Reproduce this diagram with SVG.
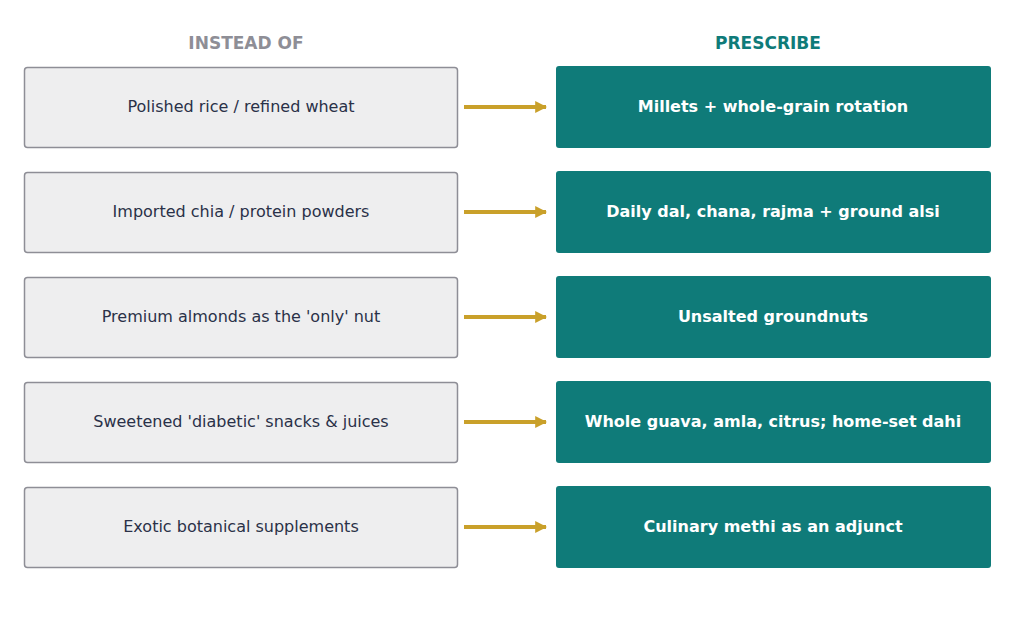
<svg xmlns="http://www.w3.org/2000/svg" width="1024" height="637" viewBox="0 0 1024 637">
<style>
.l{fill:#eeeeef;stroke:#8e8e96;stroke-width:1.5}
.r{fill:#0f7b79}
.lt{font-family:"DejaVu Sans",sans-serif;font-size:16px;fill:#2a3148;text-anchor:middle}
.rt{font-family:"DejaVu Sans",sans-serif;font-size:16px;font-weight:bold;fill:#fff;text-anchor:middle}
.h{font-family:"DejaVu Sans",sans-serif;font-size:17px;font-weight:bold;text-anchor:middle}
.c{stroke:#c9a02a;stroke-width:4;fill:none;marker-end:url(#a)}
</style>
<defs><marker id="a" viewBox="0 0 10 10" refX="9" refY="5" markerWidth="3" markerHeight="3" orient="auto" markerUnits="strokeWidth"><path d="M0,0L10,5L0,10z" fill="#c9a02a"/></marker></defs>
<text class="h" x="246" y="49" fill="#8e8e96">INSTEAD OF</text>
<text class="h" x="768" y="49" fill="#0f7b79">PRESCRIBE</text>
<g id="n1"><rect class="l" x="24.5" y="67.5" width="433" height="80" rx="3"/><text class="lt" x="241" y="112">Polished rice / refined wheat</text></g>
<g id="p1"><rect class="r" x="556" y="66" width="435" height="82" rx="3"/><text class="rt" x="773" y="112">Millets + whole-grain rotation</text></g>
<g id="n2"><rect class="l" x="24.5" y="172.5" width="433" height="80" rx="3"/><text class="lt" x="241" y="217">Imported chia / protein powders</text></g>
<g id="p2"><rect class="r" x="556" y="171" width="435" height="82" rx="3"/><text class="rt" x="773" y="217">Daily dal, chana, rajma + ground alsi</text></g>
<g id="n3"><rect class="l" x="24.5" y="277.5" width="433" height="80" rx="3"/><text class="lt" x="241" y="322">Premium almonds as the 'only' nut</text></g>
<g id="p3"><rect class="r" x="556" y="276" width="435" height="82" rx="3"/><text class="rt" x="773" y="322">Unsalted groundnuts</text></g>
<g id="n4"><rect class="l" x="24.5" y="382.5" width="433" height="80" rx="3"/><text class="lt" x="241" y="427">Sweetened 'diabetic' snacks &amp; juices</text></g>
<g id="p4"><rect class="r" x="556" y="381" width="435" height="82" rx="3"/><text class="rt" x="773" y="427">Whole guava, amla, citrus; home-set dahi</text></g>
<g id="n5"><rect class="l" x="24.5" y="487.5" width="433" height="80" rx="3"/><text class="lt" x="241" y="532">Exotic botanical supplements</text></g>
<g id="p5"><rect class="r" x="556" y="486" width="435" height="82" rx="3"/><text class="rt" x="773" y="532">Culinary methi as an adjunct</text></g>
<g id="connectors">
<path class="c" d="M464,107H546"/><path class="c" d="M464,212H546"/><path class="c" d="M464,317H546"/><path class="c" d="M464,422H546"/><path class="c" d="M464,527H546"/>
</g>
</svg>
